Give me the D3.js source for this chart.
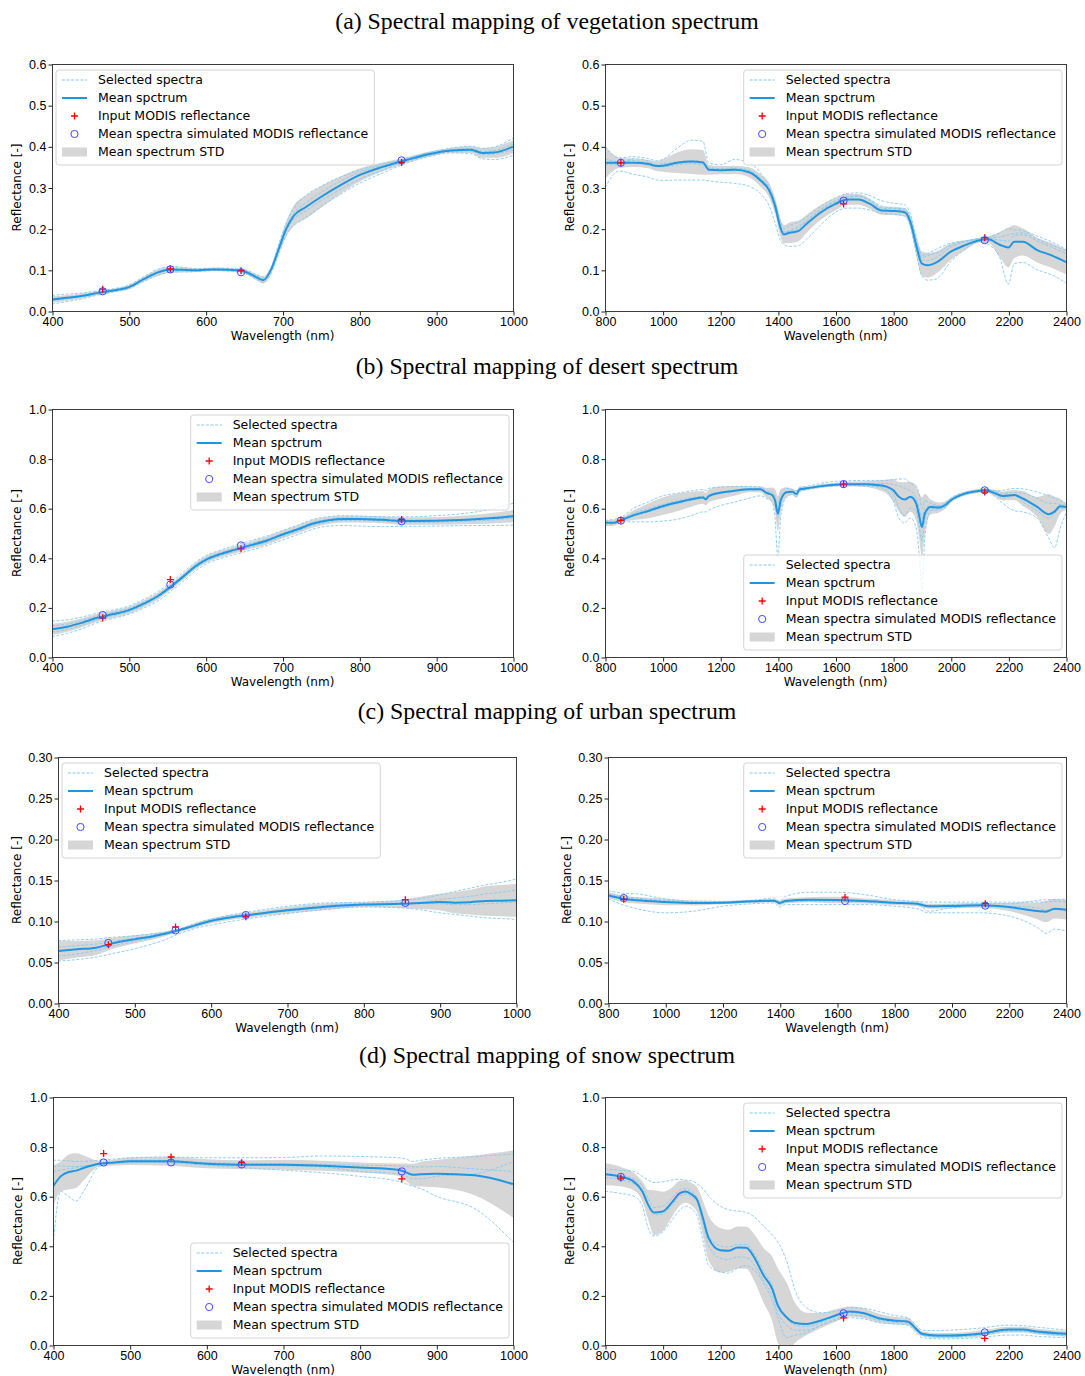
<!DOCTYPE html>
<html lang="en">
<head>
<meta charset="UTF-8">
<title>Spectral mapping of MODIS reflectance</title>
<script src="https://d3js.org/d3.v7.min.js"></script>
<style>
  body { margin: 0; background: #fff; }
  svg { display: block; font-family: "DejaVu Sans", sans-serif; }
  .title { font-family: "Liberation Serif", "Times New Roman", serif; font-size: 23.8px; }
  .tick text { font-size: 12.5px; fill: #000; }
  .tick line { stroke: #222; }
  .axis-label { font-size: 12px; }
  .legend text { font-size: 12.5px; }
</style>
</head>
<body>
<svg id="chart" width="1085" height="1376"></svg>
<script>
// ---- data ----
const rowTitles = [
  "(a) Spectral mapping of vegetation spectrum",
  "(b) Spectral mapping of desert spectrum",
  "(c) Spectral mapping of urban spectrum",
  "(d) Spectral mapping of snow spectrum"
];
const legendLabels = ["Selected spectra", "Mean spctrum", "Input MODIS reflectance",
  "Mean spectra simulated MODIS reflectance", "Mean spectrum STD"];
const bandsVis = [466, 554, 646, 855];
const bandsSwir = [855, 1628, 2118];
const ticksVis = [400, 500, 600, 700, 800, 900, 1000];
const ticksSwir = [800, 1000, 1200, 1400, 1600, 1800, 2000, 2200, 2400];

// (a) vegetation, 400-1000 nm
const vegVisWl = [400,420,440,460,480,500,520,540,555,570,590,610,630,650,665,675,685,695,705,715,730,750,775,800,830,860,890,920,945,960,975,1000];
const vegVisMean = [.028,.032,.037,.044,.050,.058,.078,.095,.101,.100,.099,.101,.100,.096,.083,.075,.100,.150,.200,.232,.252,.277,.305,.330,.350,.366,.381,.390,.392,.384,.385,.399];
const vegVisStd = [.008,.007,.006,.005,.004,.005,.006,.008,.008,.006,.004,.004,.004,.005,.007,.008,.008,.012,.018,.025,.028,.026,.021,.016,.011,.007,.006,.006,.008,.012,.013,.016];
const vegVisSel1 = [.038,.041,.044,.049,.054,.063,.084,.103,.109,.106,.103,.104,.104,.101,.090,.083,.106,.162,.215,.250,.280,.303,.325,.342,.357,.370,.385,.396,.400,.395,.398,.420];
const vegVisSel2 = [.017,.023,.030,.039,.046,.054,.072,.088,.095,.095,.096,.098,.097,.092,.078,.069,.090,.138,.185,.208,.226,.253,.283,.310,.335,.358,.375,.384,.382,.370,.368,.378];
const vegVisSel3 = [.026,.030,.036,.044,.050,.058,.077,.094,.100,.100,.099,.101,.100,.096,.084,.076,.099,.148,.195,.224,.243,.268,.295,.320,.342,.362,.379,.388,.389,.380,.381,.392];
const vegVisSel4 = [.031,.034,.039,.046,.051,.059,.080,.097,.103,.102,.100,.102,.101,.098,.086,.079,.102,.155,.205,.238,.262,.288,.315,.337,.354,.369,.383,.392,.395,.388,.390,.405];
const vegVisInput = [.053, .102, .098, .361];
const vegVisSim = [.048, .101, .094, .366];

// (a) vegetation, 800-2400 nm
const vegSwirWl = [800,850,900,950,980,1000,1050,1100,1140,1160,1200,1250,1300,1340,1370,1390,1410,1420,1440,1470,1500,1550,1600,1640,1680,1720,1760,1800,1840,1860,1880,1900,1920,1950,2000,2050,2100,2130,2170,2200,2220,2250,2300,2350,2400];
const vegSwirMean = [.360,.360,.360,.357,.352,.353,.360,.363,.361,.343,.342,.343,.337,.317,.293,.256,.200,.186,.190,.194,.212,.240,.260,.271,.271,.260,.244,.243,.240,.216,.160,.115,.111,.118,.144,.160,.172,.174,.161,.154,.168,.168,.148,.135,.119];
const vegSwirStd = [.040,.012,.010,.010,.012,.015,.025,.030,.030,.012,.010,.010,.012,.015,.018,.020,.022,.022,.025,.025,.022,.018,.015,.013,.013,.012,.010,.010,.010,.015,.022,.030,.030,.027,.020,.012,.006,.008,.030,.048,.040,.033,.030,.030,.030];
const vegSwirSel1 = [.400,.372,.375,.370,.365,.368,.395,.415,.412,.360,.355,.368,.360,.335,.300,.265,.215,.200,.208,.215,.228,.255,.275,.285,.287,.280,.268,.262,.258,.235,.180,.135,.140,.150,.165,.170,.175,.178,.190,.200,.198,.195,.182,.168,.150];
const vegSwirSel2 = [.300,.340,.332,.325,.318,.317,.318,.318,.318,.316,.313,.310,.303,.285,.255,.215,.170,.162,.157,.158,.175,.210,.240,.250,.250,.245,.238,.235,.230,.205,.140,.085,.075,.078,.120,.150,.170,.162,.130,.065,.115,.118,.100,.088,.068];
const vegSwirSel3 = [.355,.358,.370,.365,.350,.350,.355,.358,.355,.345,.343,.345,.340,.322,.298,.262,.205,.192,.195,.200,.218,.245,.265,.276,.278,.268,.250,.248,.245,.220,.165,.125,.122,.130,.155,.168,.175,.176,.172,.170,.183,.185,.170,.155,.140];
const vegSwirSel4 = [.370,.362,.365,.360,.356,.358,.362,.365,.362,.348,.346,.347,.342,.320,.290,.250,.198,.190,.195,.205,.220,.248,.268,.278,.280,.270,.255,.250,.248,.225,.170,.130,.135,.140,.160,.170,.176,.178,.180,.185,.188,.190,.175,.160,.148];
const vegSwirInput = [.360, .260, .178];
const vegSwirSim = [.360, .268, .172];

// (b) desert, 400-1000 nm
const desVisWl = [400,420,440,460,480,500,520,540,555,570,585,600,620,640,660,680,700,720,740,760,780,800,830,860,900,940,970,1000];
const desVisMean = [.112,.122,.139,.159,.173,.189,.216,.250,.285,.322,.362,.392,.416,.434,.452,.470,.494,.515,.538,.551,.556,.556,.553,.548,.549,.553,.559,.568];
const desVisStd = [.022,.020,.018,.016,.015,.015,.014,.014,.013,.013,.013,.014,.014,.015,.015,.016,.016,.016,.016,.015,.014,.014,.014,.015,.016,.018,.021,.025];
const desVisSel1 = [.145,.150,.162,.178,.190,.206,.233,.268,.302,.340,.378,.408,.432,.452,.470,.488,.510,.532,.555,.566,.570,.568,.566,.565,.570,.580,.595,.620];
const desVisSel2 = [.082,.096,.115,.140,.156,.172,.198,.230,.266,.303,.343,.374,.398,.415,.432,.450,.472,.494,.516,.528,.530,.528,.526,.527,.528,.530,.530,.532];
const desVisSel3 = [.125,.133,.148,.166,.180,.196,.222,.256,.291,.328,.367,.397,.421,.440,.458,.476,.498,.520,.543,.556,.561,.560,.558,.553,.552,.556,.563,.572];
const desVisSel4 = [.100,.112,.130,.152,.167,.183,.210,.244,.279,.316,.356,.386,.410,.428,.446,.463,.486,.508,.531,.545,.550,.550,.548,.543,.544,.548,.552,.560];
const desVisInput = [.157, .312, .436, .554];
const desVisSim = [.169, .292, .450, .547];

// (b) desert, 800-2400 nm
const desSwirWl = [800,830,850,900,950,1000,1050,1100,1140,1150,1160,1200,1250,1300,1340,1360,1380,1390,1400,1410,1430,1450,1465,1475,1500,1550,1600,1640,1700,1750,1780,1800,1820,1840,1860,1880,1890,1900,1910,1930,1960,1980,2000,2050,2100,2120,2150,2180,2220,2250,2300,2340,2360,2380,2400];
const desSwirMean = [.541,.541,.549,.572,.589,.608,.623,.636,.643,.636,.649,.662,.670,.676,.676,.662,.653,.632,.578,.632,.664,.666,.657,.676,.680,.689,.695,.697,.697,.693,.686,.673,.646,.635,.646,.619,.572,.524,.578,.605,.603,.612,.632,.659,.670,.673,.662,.649,.653,.639,.605,.576,.586,.608,.605];
const desSwirStd = [.012,.012,.010,.020,.030,.035,.035,.030,.025,.025,.025,.025,.020,.012,.012,.020,.030,.045,.070,.045,.020,.012,.015,.012,.008,.008,.008,.010,.012,.020,.030,.045,.060,.070,.060,.070,.090,.120,.080,.030,.020,.015,.010,.008,.008,.008,.012,.018,.020,.030,.040,.080,.060,.030,.012];
const desSwirSel1 = [.530,.535,.545,.545,.545,.548,.555,.570,.585,.585,.592,.610,.625,.640,.650,.640,.625,.560,.400,.570,.645,.655,.645,.668,.675,.685,.690,.692,.690,.685,.670,.630,.560,.540,.560,.520,.420,.270,.480,.590,.595,.602,.625,.655,.667,.670,.650,.620,.590,.585,.560,.480,.440,.520,.580];
const desSwirSel2 = [.550,.555,.560,.600,.625,.650,.660,.670,.675,.670,.680,.685,.688,.688,.685,.670,.665,.650,.610,.660,.680,.676,.670,.682,.688,.700,.708,.710,.712,.712,.712,.715,.718,.718,.700,.690,.660,.600,.630,.620,.610,.620,.640,.665,.672,.678,.670,.672,.680,.678,.665,.650,.640,.630,.620];
const desSwirSel3 = [.540,.540,.548,.568,.585,.602,.618,.632,.640,.632,.646,.660,.668,.675,.675,.660,.650,.625,.560,.630,.662,.665,.655,.675,.680,.688,.695,.697,.696,.690,.680,.660,.600,.570,.600,.590,.530,.470,.560,.598,.598,.608,.630,.658,.670,.673,.660,.640,.650,.625,.590,.560,.580,.600,.600];
const desSwirSel4 = [.545,.545,.552,.580,.598,.615,.630,.642,.648,.642,.654,.665,.672,.678,.678,.665,.658,.640,.590,.640,.668,.670,.660,.678,.682,.692,.698,.700,.700,.700,.700,.695,.690,.680,.670,.640,.600,.560,.600,.610,.608,.615,.635,.660,.672,.675,.668,.660,.662,.660,.640,.620,.620,.615,.612];
const desSwirInput = [.551, .697, .665];
const desSwirSim = [.550, .697, .672];

// (c) urban, 400-1000 nm
const urbVisWl = [400,425,450,470,500,520,540,555,580,600,630,650,700,750,800,850,880,900,920,940,960,980,1000];
const urbVisMean = [.0634,.0655,.0675,.0724,.0776,.0805,.0845,.0878,.0947,.1000,.1049,.1073,.1130,.1175,.1200,.1210,.1224,.1232,.1224,.1230,.1244,.1248,.1252];
const urbVisStd = [.012,.010,.009,.007,.005,.004,.003,.002,.003,.003,.003,.003,.004,.004,.003,.005,.008,.010,.013,.015,.018,.019,.020];
const urbVisSel1 = [.076,.077,.078,.080,.082,.084,.086,.089,.097,.102,.108,.111,.118,.122,.123,.125,.128,.132,.136,.140,.144,.147,.151];
const urbVisSel2 = [.051,.053,.056,.060,.066,.071,.077,.083,.091,.095,.100,.103,.109,.114,.117,.116,.113,.110,.108,.106,.104,.103,.102];
const urbVisSel3 = [.057,.060,.064,.069,.075,.079,.084,.088,.095,.100,.105,.107,.112,.116,.119,.121,.123,.126,.128,.130,.133,.135,.138];
const urbVisSel4 = [.068,.070,.072,.075,.079,.082,.086,.089,.096,.101,.106,.108,.114,.119,.121,.122,.121,.121,.120,.120,.121,.122,.123];
const urbVisInput = [.0711, .0927, .1053, .1260];
const urbVisSim = [.0732, .0886, .1073, .1220];

// (c) urban, 800-2400 nm
const urbSwirWl = [800,850,900,1000,1100,1200,1300,1380,1400,1420,1500,1600,1700,1800,1880,1920,2000,2100,2200,2300,2330,2360,2400];
const urbSwirMean = [.1313,.1272,.1252,.1232,.1220,.1224,.1240,.1248,.1220,.1244,.1260,.1256,.1244,.1224,.1211,.1179,.1183,.1191,.1171,.1122,.1114,.1150,.1138];
const urbSwirStd = [.004,.004,.004,.004,.003,.002,.002,.002,.003,.003,.003,.004,.003,.003,.003,.003,.003,.003,.005,.010,.013,.012,.012];
const urbSwirSel1 = [.127,.120,.115,.110,.112,.118,.121,.122,.117,.120,.120,.120,.120,.118,.115,.110,.110,.110,.106,.092,.085,.090,.088];
const urbSwirSel2 = [.137,.134,.133,.127,.124,.124,.125,.128,.124,.130,.135,.135,.132,.126,.124,.123,.123,.123,.123,.123,.123,.124,.124];
const urbSwirSel3 = [.130,.128,.127,.124,.122,.122,.124,.125,.122,.124,.125,.126,.124,.122,.121,.112,.116,.118,.118,.116,.113,.114,.112];
const urbSwirSel4 = [.133,.130,.128,.125,.123,.122,.123,.124,.121,.123,.124,.124,.123,.122,.121,.119,.120,.121,.121,.125,.126,.126,.127];
const urbSwirInput = [.1264, .1290, .1211];
const urbSwirSim = [.1280, .1244, .1187];

// (d) snow, 400-1000 nm
const snoVisWl = [400,410,420,430,440,460,480,500,550,600,650,700,750,800,850,860,870,880,900,950,1000];
const snoVisMean = [.639,.680,.697,.703,.714,.731,.736,.741,.741,.731,.727,.727,.723,.716,.707,.697,.686,.689,.691,.684,.649];
const snoVisStd = [.085,.060,.070,.070,.050,.012,.012,.015,.018,.018,.018,.020,.020,.020,.025,.035,.045,.050,.055,.080,.135];
const snoVisSel1 = [.400,.620,.600,.580,.620,.720,.735,.738,.735,.725,.715,.705,.695,.680,.660,.650,.640,.630,.600,.550,.416];
const snoVisSel2 = [.745,.745,.742,.740,.740,.745,.750,.755,.758,.755,.755,.756,.762,.760,.755,.750,.740,.745,.752,.760,.770];
const snoVisSel3 = [.720,.722,.720,.720,.722,.728,.732,.735,.738,.735,.732,.730,.728,.725,.722,.720,.718,.718,.720,.710,.700];
const snoVisSel4 = [.700,.705,.710,.715,.720,.730,.738,.745,.745,.735,.728,.722,.718,.700,.690,.680,.670,.670,.680,.690,.740];
const snoVisInput = [.772, .758, .735, .670];
const snoVisSim = [.736, .736, .728, .700];

// (d) snow, 800-2400 nm
const snoSwirWl = [800,850,900,930,950,970,1000,1030,1060,1080,1100,1120,1140,1160,1200,1230,1260,1290,1320,1350,1380,1400,1430,1460,1500,1550,1600,1650,1700,1750,1800,1850,1880,1900,1950,2000,2100,2200,2250,2300,2400];
const snoSwirMean = [.689,.680,.659,.619,.565,.534,.538,.572,.612,.619,.608,.585,.511,.430,.382,.380,.393,.392,.349,.281,.227,.159,.112,.089,.085,.099,.119,.135,.128,.108,.099,.095,.065,.045,.038,.038,.045,.062,.062,.054,.045];
const snoSwirStd = [.045,.040,.035,.040,.060,.090,.080,.060,.050,.045,.045,.050,.070,.090,.090,.085,.085,.085,.095,.110,.130,.150,.140,.080,.045,.030,.025,.020,.020,.018,.015,.015,.012,.010,.010,.010,.012,.012,.012,.012,.012];
const snoSwirSel1 = [.710,.705,.700,.680,.665,.655,.658,.665,.668,.665,.662,.650,.630,.600,.560,.545,.540,.535,.515,.480,.445,.415,.340,.220,.150,.130,.135,.150,.148,.135,.120,.110,.080,.060,.058,.060,.068,.080,.078,.072,.060];
const snoSwirSel2 = [.620,.612,.600,.560,.470,.440,.455,.500,.545,.560,.550,.520,.420,.320,.295,.290,.310,.320,.300,.250,.180,.110,.030,.040,.050,.080,.100,.110,.105,.090,.085,.080,.050,.030,.025,.025,.030,.040,.040,.035,.030];
const snoSwirSel3 = [.690,.685,.670,.640,.590,.555,.560,.590,.625,.630,.620,.590,.520,.440,.400,.395,.405,.405,.365,.300,.240,.170,.110,.080,.075,.090,.115,.130,.125,.105,.095,.090,.060,.040,.035,.035,.042,.058,.058,.050,.040];
const snoSwirSel4 = [.675,.668,.650,.615,.560,.525,.528,.560,.600,.608,.598,.575,.490,.400,.350,.345,.355,.352,.320,.260,.200,.130,.080,.060,.060,.080,.105,.120,.115,.100,.092,.088,.058,.040,.033,.033,.040,.055,.055,.048,.038];
const snoSwirInput = [.673, .109, .027];
const snoSwirSim = [.678, .128, .051];

// ---- layout ----
const rows = [
  { titleY: 29, top: 64, bottom: 311, cols: [[52, 513], [605, 1066]], ymax: 0.6, ystep: 0.1, fmt: ".1f" },
  { titleY: 374, top: 409, bottom: 657, cols: [[52, 513], [605, 1066]], ymax: 1.0, ystep: 0.2, fmt: ".1f" },
  { titleY: 719, top: 757, bottom: 1003, cols: [[58, 516], [608, 1066]], ymax: 0.30, ystep: 0.05, fmt: ".2f" },
  { titleY: 1063, top: 1097, bottom: 1345, cols: [[53, 513], [605, 1066]], ymax: 1.0, ystep: 0.2, fmt: ".1f" }
];

const panels = [
  { row: 0, col: 0, wl: vegVisWl, mean: vegVisMean, std: vegVisStd, sel: [vegVisSel1, vegVisSel2, vegVisSel3, vegVisSel4], bands: bandsVis, input: vegVisInput, sim: vegVisSim, legend: "ul" },
  { row: 0, col: 1, wl: vegSwirWl, mean: vegSwirMean, std: vegSwirStd, sel: [vegSwirSel1, vegSwirSel2, vegSwirSel3, vegSwirSel4], bands: bandsSwir, input: vegSwirInput, sim: vegSwirSim, legend: "ur" },
  { row: 1, col: 0, wl: desVisWl, mean: desVisMean, std: desVisStd, sel: [desVisSel1, desVisSel2, desVisSel3, desVisSel4], bands: bandsVis, input: desVisInput, sim: desVisSim, legend: "ur" },
  { row: 1, col: 1, wl: desSwirWl, mean: desSwirMean, std: desSwirStd, sel: [desSwirSel1, desSwirSel2, desSwirSel3, desSwirSel4], bands: bandsSwir, input: desSwirInput, sim: desSwirSim, legend: "lr" },
  { row: 2, col: 0, wl: urbVisWl, mean: urbVisMean, std: urbVisStd, sel: [urbVisSel1, urbVisSel2, urbVisSel3, urbVisSel4], bands: bandsVis, input: urbVisInput, sim: urbVisSim, legend: "ul" },
  { row: 2, col: 1, wl: urbSwirWl, mean: urbSwirMean, std: urbSwirStd, sel: [urbSwirSel1, urbSwirSel2, urbSwirSel3, urbSwirSel4], bands: bandsSwir, input: urbSwirInput, sim: urbSwirSim, legend: "ur" },
  { row: 3, col: 0, wl: snoVisWl, mean: snoVisMean, std: snoVisStd, sel: [snoVisSel1, snoVisSel2, snoVisSel3, snoVisSel4], bands: bandsVis, input: snoVisInput, sim: snoVisSim, legend: "lr" },
  { row: 3, col: 1, wl: snoSwirWl, mean: snoSwirMean, std: snoSwirStd, sel: [snoSwirSel1, snoSwirSel2, snoSwirSel3, snoSwirSel4], bands: bandsSwir, input: snoSwirInput, sim: snoSwirSim, legend: "ur" }
];

const meanColor = "#2196e0";
const selColor = "#85c9f2";
const stdColor = "#d6d6d6";
const plusPath = "M-3.5,0H3.5M0,-3.5V3.5";

const svg = d3.select("#chart");
const defs = svg.append("defs");

rows.forEach((r, i) => {
  svg.append("text")
    .attr("class", "title")
    .attr("x", 547)
    .attr("y", r.titleY)
    .attr("text-anchor", "middle")
    .text(rowTitles[i]);
});

function drawLegend(g, p, x0, x1, y0, y1) {
  const lg = g.append("g").attr("class", "legend");
  const box = lg.append("rect")
    .attr("rx", 3)
    .attr("fill", "#fff")
    .attr("fill-opacity", 0.8)
    .attr("stroke", "#d4d4d4")
    .attr("stroke-width", 1);

  let maxW = 0;
  legendLabels.forEach((lab, i) => {
    const t = lg.append("text").attr("x", 42).attr("y", 10 + i * 18).attr("dy", "0.35em").text(lab);
    maxW = Math.max(maxW, t.node().getComputedTextLength());
  });

  // handles
  lg.append("line").attr("x1", 6).attr("x2", 31).attr("y1", 10).attr("y2", 10)
    .attr("stroke", selColor).attr("stroke-width", 1).attr("stroke-dasharray", "3,1.6");
  lg.append("line").attr("x1", 6).attr("x2", 31).attr("y1", 28).attr("y2", 28)
    .attr("stroke", meanColor).attr("stroke-width", 2);
  lg.append("path").attr("d", plusPath).attr("transform", "translate(18.5,46)")
    .attr("stroke", "red").attr("stroke-width", 1.3).attr("fill", "none");
  lg.append("circle").attr("cx", 18.5).attr("cy", 64).attr("r", 3.6)
    .attr("stroke", "#4646ff").attr("stroke-width", 1).attr("fill", "none");
  lg.append("rect").attr("x", 6).attr("y", 77.5).attr("width", 25).attr("height", 9)
    .attr("fill", stdColor);

  const w = 42 + maxW + 6;
  const h = 95;
  box.attr("width", w).attr("height", h);

  let tx, ty;
  if (p.legend === "ul") { tx = x0 + 4; ty = y0 + 6; }
  else if (p.legend === "ur") { tx = x1 - 4 - w; ty = y0 + 6; }
  else { tx = x1 - 4 - w; ty = y1 - 7 - h; }
  lg.attr("transform", `translate(${tx},${ty})`);
}

panels.forEach((p, idx) => {
  const r = rows[p.row];
  const [left, right] = r.cols[p.col];
  const vis = p.col === 0;
  const x = d3.scaleLinear().domain(vis ? [400, 1000] : [800, 2400]).range([left, right]);
  const y = d3.scaleLinear().domain([0, r.ymax]).range([r.bottom, r.top]);

  const g = svg.append("g");

  defs.append("clipPath").attr("id", "clip" + idx)
    .append("rect").attr("x", left).attr("y", r.top)
    .attr("width", right - left).attr("height", r.bottom - r.top);

  const plot = g.append("g").attr("clip-path", `url(#clip${idx})`);
  const pts = p.wl.map((w, i) => ({ w, m: p.mean[i], s: p.std[i] }));

  plot.append("path")
    .datum(pts)
    .attr("d", d3.area()
      .x(d => x(d.w))
      .y0(d => y(d.m - d.s))
      .y1(d => y(d.m + d.s))
      .curve(d3.curveMonotoneX))
    .attr("fill", stdColor);

  const line = d3.line().x(d => x(d[0])).y(d => y(d[1])).curve(d3.curveMonotoneX);

  p.sel.forEach(s => {
    plot.append("path")
      .datum(p.wl.map((w, i) => [w, s[i]]))
      .attr("d", line)
      .attr("fill", "none")
      .attr("stroke", selColor)
      .attr("stroke-width", 0.9)
      .attr("stroke-dasharray", "3,1.6");
  });

  plot.append("path")
    .datum(p.wl.map((w, i) => [w, p.mean[i]]))
    .attr("d", line)
    .attr("fill", "none")
    .attr("stroke", meanColor)
    .attr("stroke-width", 2);

  g.selectAll(null)
    .data(p.bands.map((b, i) => [b, p.input[i]]))
    .enter().append("path")
    .attr("d", plusPath)
    .attr("transform", d => `translate(${x(d[0])},${y(d[1])})`)
    .attr("stroke", "red").attr("stroke-width", 1.3).attr("fill", "none");

  g.selectAll(null)
    .data(p.bands.map((b, i) => [b, p.sim[i]]))
    .enter().append("circle")
    .attr("cx", d => x(d[0]))
    .attr("cy", d => y(d[1]))
    .attr("r", 3.6)
    .attr("stroke", "#4646ff").attr("stroke-width", 1).attr("fill", "none");

  // frame
  g.append("rect")
    .attr("x", left + 0.5).attr("y", r.top + 0.5)
    .attr("width", right - left).attr("height", r.bottom - r.top)
    .attr("fill", "none").attr("stroke", "#3c3c3c").attr("stroke-width", 1);

  const yTicks = d3.range(0, r.ymax + 1e-9, r.ystep);

  const xAxis = g.append("g")
    .attr("transform", `translate(0.5,${r.bottom + 0.5})`)
    .call(d3.axisBottom(x).tickValues(vis ? ticksVis : ticksSwir).tickFormat(d3.format("d")).tickSize(4).tickSizeOuter(0).tickPadding(2));
  xAxis.select(".domain").remove();

  const yAxis = g.append("g")
    .attr("transform", `translate(${left + 0.5},0.5)`)
    .call(d3.axisLeft(y).tickValues(yTicks).tickFormat(d3.format(r.fmt)).tickSize(4).tickSizeOuter(0).tickPadding(2));
  yAxis.select(".domain").remove();

  g.append("text")
    .attr("class", "axis-label")
    .attr("x", (left + right) / 2)
    .attr("y", r.bottom + 29)
    .attr("text-anchor", "middle")
    .text("Wavelength (nm)");

  const labX = left - (r.fmt === ".2f" ? 41 : 35);
  g.append("text")
    .attr("class", "axis-label")
    .attr("transform", `translate(${labX},${(r.top + r.bottom) / 2}) rotate(-90)`)
    .attr("text-anchor", "middle")
    .attr("dominant-baseline", "central")
    .text("Reflectance [-]");

  drawLegend(g, p, left, right, r.top, r.bottom);
});
</script>
</body>
</html>
